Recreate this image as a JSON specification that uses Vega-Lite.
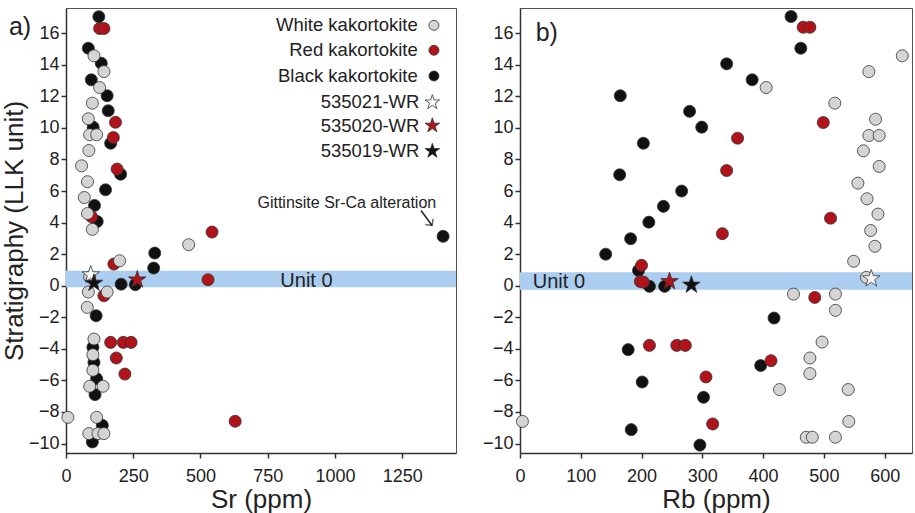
{
  "$schema": "https://vega.github.io/schema/vega-lite/v6.json",
  "padding": {"left": 0, "top": 7, "right": 2, "bottom": 0},
  "spacing": 24,
  "config": {
    "font": "Liberation Sans",
    "view": {"stroke": "#555", "strokeWidth": 1},
    "axis": {"domainColor": "#333", "domainWidth": 1.5, "tickColor": "#333", "tickWidth": 1.5, "tickSize": 5, "labelFontSize": 18, "labelColor": "#222", "titleFontSize": 26, "titleFontWeight": "normal", "titleColor": "#222", "grid": false, "labelPadding": 2, "labelOverlap": false, "labelFlush": false}
  },
  "datasets": {
    "sr": [
      {"group": "Black kakortokite", "Sr": 122, "strat": 17.05},
      {"group": "Black kakortokite", "Sr": 83, "strat": 15.05},
      {"group": "Black kakortokite", "Sr": 131, "strat": 14.1},
      {"group": "Black kakortokite", "Sr": 94, "strat": 13.05},
      {"group": "Black kakortokite", "Sr": 153, "strat": 12.04},
      {"group": "Black kakortokite", "Sr": 157, "strat": 11.09},
      {"group": "Black kakortokite", "Sr": 101, "strat": 10.05},
      {"group": "Black kakortokite", "Sr": 166, "strat": 9.03},
      {"group": "Black kakortokite", "Sr": 203, "strat": 7.07},
      {"group": "Black kakortokite", "Sr": 147, "strat": 6.08},
      {"group": "Black kakortokite", "Sr": 106, "strat": 5.09},
      {"group": "Black kakortokite", "Sr": 116, "strat": 4.07},
      {"group": "Black kakortokite", "Sr": 1402, "strat": 3.13},
      {"group": "Black kakortokite", "Sr": 330, "strat": 2.07},
      {"group": "Black kakortokite", "Sr": 326, "strat": 1.12},
      {"group": "Black kakortokite", "Sr": 205, "strat": 0.1},
      {"group": "Black kakortokite", "Sr": 258, "strat": 0.07},
      {"group": "Black kakortokite", "Sr": 112, "strat": -1.9},
      {"group": "Black kakortokite", "Sr": 100, "strat": -3.9},
      {"group": "Black kakortokite", "Sr": 104, "strat": -4.86},
      {"group": "Black kakortokite", "Sr": 114, "strat": -5.89},
      {"group": "Black kakortokite", "Sr": 108, "strat": -6.9},
      {"group": "Black kakortokite", "Sr": 135, "strat": -8.85},
      {"group": "Black kakortokite", "Sr": 98, "strat": -9.9},
      {"group": "Red kakortokite", "Sr": 125, "strat": 16.3},
      {"group": "Red kakortokite", "Sr": 141, "strat": 16.3},
      {"group": "Red kakortokite", "Sr": 184, "strat": 10.36},
      {"group": "Red kakortokite", "Sr": 176, "strat": 9.39},
      {"group": "Red kakortokite", "Sr": 190, "strat": 7.39},
      {"group": "Red kakortokite", "Sr": 95, "strat": 4.37},
      {"group": "Red kakortokite", "Sr": 543, "strat": 3.4},
      {"group": "Red kakortokite", "Sr": 178, "strat": 1.37},
      {"group": "Red kakortokite", "Sr": 528, "strat": 0.38},
      {"group": "Red kakortokite", "Sr": 141, "strat": -0.63},
      {"group": "Red kakortokite", "Sr": 166, "strat": -3.59},
      {"group": "Red kakortokite", "Sr": 213, "strat": -3.59},
      {"group": "Red kakortokite", "Sr": 242, "strat": -3.59},
      {"group": "Red kakortokite", "Sr": 187, "strat": -4.58},
      {"group": "Red kakortokite", "Sr": 219, "strat": -5.6},
      {"group": "Red kakortokite", "Sr": 629, "strat": -8.59},
      {"group": "White kakortokite", "Sr": 104, "strat": 14.57},
      {"group": "White kakortokite", "Sr": 141, "strat": 13.57},
      {"group": "White kakortokite", "Sr": 125, "strat": 12.56},
      {"group": "White kakortokite", "Sr": 98, "strat": 11.57},
      {"group": "White kakortokite", "Sr": 83, "strat": 10.58},
      {"group": "White kakortokite", "Sr": 88, "strat": 9.57},
      {"group": "White kakortokite", "Sr": 114, "strat": 9.57},
      {"group": "White kakortokite", "Sr": 85, "strat": 8.57},
      {"group": "White kakortokite", "Sr": 58, "strat": 7.6},
      {"group": "White kakortokite", "Sr": 80, "strat": 6.59},
      {"group": "White kakortokite", "Sr": 68, "strat": 5.59},
      {"group": "White kakortokite", "Sr": 80, "strat": 4.58},
      {"group": "White kakortokite", "Sr": 98, "strat": 3.57},
      {"group": "White kakortokite", "Sr": 456, "strat": 2.6},
      {"group": "White kakortokite", "Sr": 199, "strat": 1.58},
      {"group": "White kakortokite", "Sr": 88, "strat": 0.55},
      {"group": "White kakortokite", "Sr": 83, "strat": -0.4},
      {"group": "White kakortokite", "Sr": 153, "strat": -0.4},
      {"group": "White kakortokite", "Sr": 79, "strat": -1.37},
      {"group": "White kakortokite", "Sr": 104, "strat": -3.38},
      {"group": "White kakortokite", "Sr": 100, "strat": -4.37},
      {"group": "White kakortokite", "Sr": 100, "strat": -5.36},
      {"group": "White kakortokite", "Sr": 88, "strat": -6.37},
      {"group": "White kakortokite", "Sr": 138, "strat": -6.37},
      {"group": "White kakortokite", "Sr": 7, "strat": -8.34},
      {"group": "White kakortokite", "Sr": 114, "strat": -8.34},
      {"group": "White kakortokite", "Sr": 85, "strat": -9.37},
      {"group": "White kakortokite", "Sr": 119, "strat": -9.37},
      {"group": "White kakortokite", "Sr": 141, "strat": -9.37},
      {"group": "535021-WR", "Sr": 92, "strat": 0.7},
      {"group": "535020-WR", "Sr": 265, "strat": 0.38},
      {"group": "535019-WR", "Sr": 104, "strat": 0.17}
    ],
    "rb": [
      {"group": "Black kakortokite", "Rb": 446, "strat": 17.06},
      {"group": "Black kakortokite", "Rb": 462, "strat": 15.05},
      {"group": "Black kakortokite", "Rb": 340, "strat": 14.06},
      {"group": "Black kakortokite", "Rb": 382, "strat": 13.05},
      {"group": "Black kakortokite", "Rb": 165, "strat": 12.04},
      {"group": "Black kakortokite", "Rb": 279, "strat": 11.05},
      {"group": "Black kakortokite", "Rb": 299, "strat": 10.05},
      {"group": "Black kakortokite", "Rb": 203, "strat": 9.03},
      {"group": "Black kakortokite", "Rb": 164, "strat": 7.03},
      {"group": "Black kakortokite", "Rb": 266, "strat": 6.0},
      {"group": "Black kakortokite", "Rb": 236, "strat": 5.03},
      {"group": "Black kakortokite", "Rb": 212, "strat": 4.03},
      {"group": "Black kakortokite", "Rb": 182, "strat": 2.98},
      {"group": "Black kakortokite", "Rb": 141, "strat": 2.0},
      {"group": "Black kakortokite", "Rb": 195, "strat": 0.97},
      {"group": "Black kakortokite", "Rb": 213, "strat": -0.04},
      {"group": "Black kakortokite", "Rb": 238, "strat": -0.04},
      {"group": "Black kakortokite", "Rb": 418, "strat": -2.05},
      {"group": "Black kakortokite", "Rb": 178, "strat": -4.05},
      {"group": "Black kakortokite", "Rb": 396, "strat": -5.06},
      {"group": "Black kakortokite", "Rb": 201, "strat": -6.1},
      {"group": "Black kakortokite", "Rb": 302, "strat": -7.07},
      {"group": "Black kakortokite", "Rb": 183, "strat": -9.12},
      {"group": "Black kakortokite", "Rb": 296, "strat": -10.1},
      {"group": "Red kakortokite", "Rb": 466, "strat": 16.38},
      {"group": "Red kakortokite", "Rb": 477, "strat": 16.38},
      {"group": "Red kakortokite", "Rb": 499, "strat": 10.34},
      {"group": "Red kakortokite", "Rb": 358, "strat": 9.35},
      {"group": "Red kakortokite", "Rb": 340, "strat": 7.3},
      {"group": "Red kakortokite", "Rb": 511, "strat": 4.28},
      {"group": "Red kakortokite", "Rb": 333, "strat": 3.3},
      {"group": "Red kakortokite", "Rb": 200, "strat": 1.29},
      {"group": "Red kakortokite", "Rb": 198, "strat": 0.27},
      {"group": "Red kakortokite", "Rb": 203, "strat": 0.23},
      {"group": "Red kakortokite", "Rb": 485, "strat": -0.74},
      {"group": "Red kakortokite", "Rb": 213, "strat": -3.78},
      {"group": "Red kakortokite", "Rb": 258, "strat": -3.78},
      {"group": "Red kakortokite", "Rb": 272, "strat": -3.78},
      {"group": "Red kakortokite", "Rb": 413, "strat": -4.75},
      {"group": "Red kakortokite", "Rb": 306, "strat": -5.78},
      {"group": "Red kakortokite", "Rb": 317, "strat": -8.76},
      {"group": "White kakortokite", "Rb": 629, "strat": 14.57},
      {"group": "White kakortokite", "Rb": 574, "strat": 13.57},
      {"group": "White kakortokite", "Rb": 405, "strat": 12.56},
      {"group": "White kakortokite", "Rb": 518, "strat": 11.57},
      {"group": "White kakortokite", "Rb": 585, "strat": 10.55},
      {"group": "White kakortokite", "Rb": 574, "strat": 9.52},
      {"group": "White kakortokite", "Rb": 591, "strat": 9.52},
      {"group": "White kakortokite", "Rb": 565, "strat": 8.55},
      {"group": "White kakortokite", "Rb": 591, "strat": 7.56},
      {"group": "White kakortokite", "Rb": 556, "strat": 6.5},
      {"group": "White kakortokite", "Rb": 571, "strat": 5.51},
      {"group": "White kakortokite", "Rb": 589, "strat": 4.54},
      {"group": "White kakortokite", "Rb": 577, "strat": 3.5},
      {"group": "White kakortokite", "Rb": 584, "strat": 2.5},
      {"group": "White kakortokite", "Rb": 549, "strat": 1.55},
      {"group": "White kakortokite", "Rb": 570, "strat": 0.53},
      {"group": "White kakortokite", "Rb": 450, "strat": -0.53},
      {"group": "White kakortokite", "Rb": 519, "strat": -0.53},
      {"group": "White kakortokite", "Rb": 519, "strat": -1.56},
      {"group": "White kakortokite", "Rb": 497, "strat": -3.57},
      {"group": "White kakortokite", "Rb": 477, "strat": -4.58},
      {"group": "White kakortokite", "Rb": 477, "strat": -5.57},
      {"group": "White kakortokite", "Rb": 427, "strat": -6.58},
      {"group": "White kakortokite", "Rb": 540, "strat": -6.58},
      {"group": "White kakortokite", "Rb": 4, "strat": -8.6},
      {"group": "White kakortokite", "Rb": 541, "strat": -8.6},
      {"group": "White kakortokite", "Rb": 471, "strat": -9.6},
      {"group": "White kakortokite", "Rb": 481, "strat": -9.6},
      {"group": "White kakortokite", "Rb": 519, "strat": -9.6},
      {"group": "535021-WR", "Rb": 578, "strat": 0.45},
      {"group": "535020-WR", "Rb": 246, "strat": 0.27},
      {"group": "535019-WR", "Rb": 282, "strat": 0.05}
    ],
    "key": [
      {"group": "White kakortokite", "symSr": 1368, "labSr": 1308, "strat": 16.5},
      {"group": "Red kakortokite", "symSr": 1368, "labSr": 1308, "strat": 14.92},
      {"group": "Black kakortokite", "symSr": 1368, "labSr": 1308, "strat": 13.29},
      {"group": "535021-WR", "symSr": 1362, "labSr": 1314, "strat": 11.62},
      {"group": "535020-WR", "symSr": 1362, "labSr": 1314, "strat": 10.15},
      {"group": "535019-WR", "symSr": 1362, "labSr": 1314, "strat": 8.54}
    ]
  },
  "hconcat": [
    {
      "width": 390,
      "height": 445,
      "layer": [
        {
          "data": {"values": [{"lo": -0.1, "hi": 0.95}]},
          "mark": {"type": "rect", "color": "#aacdf0"},
          "encoding": {
            "y": {"field": "lo", "type": "quantitative", "scale": {"domain": [-10.6, 17.6], "nice": false, "zero": false}},
            "y2": {"field": "hi"}
          }
        },
        {
          "data": {"name": "sr"},
          "mark": {"type": "point", "filled": true, "stroke": "#333", "strokeWidth": 0.8, "opacity": 1},
          "encoding": {
            "x": {"field": "Sr", "type": "quantitative", "title": "Sr (ppm)", "scale": {"domain": [0, 1450], "nice": false, "zero": false}, "axis": {"values": [0, 250, 500, 750, 1000, 1250], "format": "d", "tickCount": 20, "labelPadding": 9, "titlePadding": 1}},
            "y": {"field": "strat", "type": "quantitative", "title": "Stratigraphy (LLK unit)", "scale": {"domain": [-10.6, 17.6], "nice": false, "zero": false}, "axis": {"values": [-10, -8, -6, -4, -2, 0, 2, 4, 6, 8, 10, 12, 14, 16], "tickCount": 30, "labelOverlap": false, "titlePadding": 1}},
            "fill": {
              "field": "group", "type": "nominal",
              "scale": {"domain": ["White kakortokite", "Red kakortokite", "Black kakortokite", "535021-WR", "535020-WR", "535019-WR"], "range": ["#d4d4d4", "#b2131b", "#111111", "#ffffff", "#b2131b", "#111111"]},
              "legend": null
            },
            "shape": {
              "field": "group", "type": "nominal",
              "scale": {"domain": ["White kakortokite", "Red kakortokite", "Black kakortokite", "535021-WR", "535020-WR", "535019-WR"], "range": ["circle", "circle", "circle", "M0,-1L0.2245,-0.309L0.951,-0.309L0.363,0.118L0.588,0.809L0,0.382L-0.588,0.809L-0.363,0.118L-0.951,-0.309L-0.2245,-0.309Z", "M0,-1L0.2245,-0.309L0.951,-0.309L0.363,0.118L0.588,0.809L0,0.382L-0.588,0.809L-0.363,0.118L-0.951,-0.309L-0.2245,-0.309Z", "M0,-1L0.2245,-0.309L0.951,-0.309L0.363,0.118L0.588,0.809L0,0.382L-0.588,0.809L-0.363,0.118L-0.951,-0.309L-0.2245,-0.309Z"]},
              "legend": null
            },
            "size": {
              "field": "group", "type": "nominal",
              "scale": {"type": "ordinal", "domain": ["White kakortokite", "Red kakortokite", "Black kakortokite", "535021-WR", "535020-WR", "535019-WR"], "range": [145, 145, 145, 340, 340, 340]},
              "legend": null
            }
          }
        },
        {
          "data": {"values": [{"x": 1320, "y": 4.77, "x2": 1361, "y2": 3.82}]},
          "mark": {"type": "rule", "stroke": "#222", "strokeWidth": 1.5},
          "encoding": {"x": {"field": "x", "type": "quantitative"}, "y": {"field": "y", "type": "quantitative"}, "x2": {"field": "x2"}, "y2": {"field": "y2"}}
        },
        {
          "data": {"values": [{"x": 1361, "y": 3.82}]},
          "mark": {"type": "point", "shape": "M-1,-1L0,0L-1,1", "filled": false, "stroke": "#222", "strokeWidth": 1.5, "angle": 54, "size": 90},
          "encoding": {"x": {"field": "x", "type": "quantitative"}, "y": {"field": "y", "type": "quantitative"}}
        },
        {
          "data": {"values": [{"x": 1044, "y": 5.23, "t": "Gittinsite Sr-Ca alteration"}]},
          "mark": {"type": "text", "fontSize": 16, "color": "#222", "align": "center", "baseline": "middle"},
          "encoding": {"x": {"field": "x", "type": "quantitative"}, "y": {"field": "y", "type": "quantitative"}, "text": {"field": "t"}}
        },
        {
          "data": {"values": [{"x": 894, "y": 0.33, "t": "Unit 0"}]},
          "mark": {"type": "text", "fontSize": 20, "color": "#222", "align": "center", "baseline": "middle"},
          "encoding": {"x": {"field": "x", "type": "quantitative"}, "y": {"field": "y", "type": "quantitative"}, "text": {"field": "t"}}
        },
        {
          "data": {"values": [{"x": -171, "y": 16.42, "t": "a)"}]},
          "mark": {"type": "text", "fontSize": 25, "color": "#222", "align": "center", "baseline": "middle"},
          "encoding": {"x": {"field": "x", "type": "quantitative"}, "y": {"field": "y", "type": "quantitative"}, "text": {"field": "t"}}
        },
        {
          "data": {"name": "key"},
          "transform": [{"filter": {"field": "group", "oneOf": ["White kakortokite", "Red kakortokite", "Black kakortokite"]}}],
          "mark": {"type": "point", "filled": true, "stroke": "#333", "strokeWidth": 0.8, "opacity": 1, "size": 100},
          "encoding": {
            "x": {"field": "symSr", "type": "quantitative"},
            "y": {"field": "strat", "type": "quantitative"},
            "fill": {"field": "group", "type": "nominal", "legend": null},
            "shape": {"field": "group", "type": "nominal", "legend": null}
          }
        },
        {
          "data": {"name": "key"},
          "transform": [{"filter": {"field": "group", "oneOf": ["535021-WR", "535020-WR", "535019-WR"]}}],
          "mark": {"type": "point", "filled": true, "stroke": "#333", "strokeWidth": 0.8, "opacity": 1, "size": 240},
          "encoding": {
            "x": {"field": "symSr", "type": "quantitative"},
            "y": {"field": "strat", "type": "quantitative"},
            "fill": {"field": "group", "type": "nominal", "legend": null},
            "shape": {"field": "group", "type": "nominal", "legend": null}
          }
        },
        {
          "data": {"name": "key"},
          "mark": {"type": "text", "fontSize": 18.5, "color": "#222", "align": "right", "baseline": "middle"},
          "encoding": {
            "x": {"field": "labSr", "type": "quantitative"},
            "y": {"field": "strat", "type": "quantitative"},
            "text": {"field": "group"}
          }
        }
      ]
    },
    {
      "width": 392,
      "height": 445,
      "layer": [
        {
          "data": {"values": [{"lo": -0.25, "hi": 0.85}]},
          "mark": {"type": "rect", "color": "#aacdf0"},
          "encoding": {
            "y": {"field": "lo", "type": "quantitative", "scale": {"domain": [-10.6, 17.6], "nice": false, "zero": false}},
            "y2": {"field": "hi"}
          }
        },
        {
          "data": {"name": "rb"},
          "mark": {"type": "point", "filled": true, "stroke": "#333", "strokeWidth": 0.8, "opacity": 1},
          "encoding": {
            "x": {"field": "Rb", "type": "quantitative", "title": "Rb (ppm)", "scale": {"domain": [0, 645], "nice": false, "zero": false}, "axis": {"values": [0, 100, 200, 300, 400, 500, 600], "format": "d", "tickCount": 20, "labelPadding": 9, "titlePadding": 1}},
            "y": {"field": "strat", "type": "quantitative", "title": null, "scale": {"domain": [-10.6, 17.6], "nice": false, "zero": false}, "axis": {"values": [-10, -8, -6, -4, -2, 0, 2, 4, 6, 8, 10, 12, 14, 16], "tickCount": 30, "labelOverlap": false}},
            "fill": {
              "field": "group", "type": "nominal",
              "scale": {"domain": ["White kakortokite", "Red kakortokite", "Black kakortokite", "535021-WR", "535020-WR", "535019-WR"], "range": ["#d4d4d4", "#b2131b", "#111111", "#ffffff", "#b2131b", "#111111"]},
              "legend": null
            },
            "shape": {
              "field": "group", "type": "nominal",
              "scale": {"domain": ["White kakortokite", "Red kakortokite", "Black kakortokite", "535021-WR", "535020-WR", "535019-WR"], "range": ["circle", "circle", "circle", "M0,-1L0.2245,-0.309L0.951,-0.309L0.363,0.118L0.588,0.809L0,0.382L-0.588,0.809L-0.363,0.118L-0.951,-0.309L-0.2245,-0.309Z", "M0,-1L0.2245,-0.309L0.951,-0.309L0.363,0.118L0.588,0.809L0,0.382L-0.588,0.809L-0.363,0.118L-0.951,-0.309L-0.2245,-0.309Z", "M0,-1L0.2245,-0.309L0.951,-0.309L0.363,0.118L0.588,0.809L0,0.382L-0.588,0.809L-0.363,0.118L-0.951,-0.309L-0.2245,-0.309Z"]},
              "legend": null
            },
            "size": {
              "field": "group", "type": "nominal",
              "scale": {"type": "ordinal", "domain": ["White kakortokite", "Red kakortokite", "Black kakortokite", "535021-WR", "535020-WR", "535019-WR"], "range": [145, 145, 145, 340, 340, 340]},
              "legend": null
            }
          }
        },
        {
          "data": {"values": [{"x": 64, "y": 0.21, "t": "Unit 0"}]},
          "mark": {"type": "text", "fontSize": 20, "color": "#222", "align": "center", "baseline": "middle"},
          "encoding": {"x": {"field": "x", "type": "quantitative"}, "y": {"field": "y", "type": "quantitative"}, "text": {"field": "t"}}
        },
        {
          "data": {"values": [{"x": 44, "y": 16.04, "t": "b)"}]},
          "mark": {"type": "text", "fontSize": 25, "color": "#222", "align": "center", "baseline": "middle"},
          "encoding": {"x": {"field": "x", "type": "quantitative"}, "y": {"field": "y", "type": "quantitative"}, "text": {"field": "t"}}
        }
      ]
    }
  ]
}
